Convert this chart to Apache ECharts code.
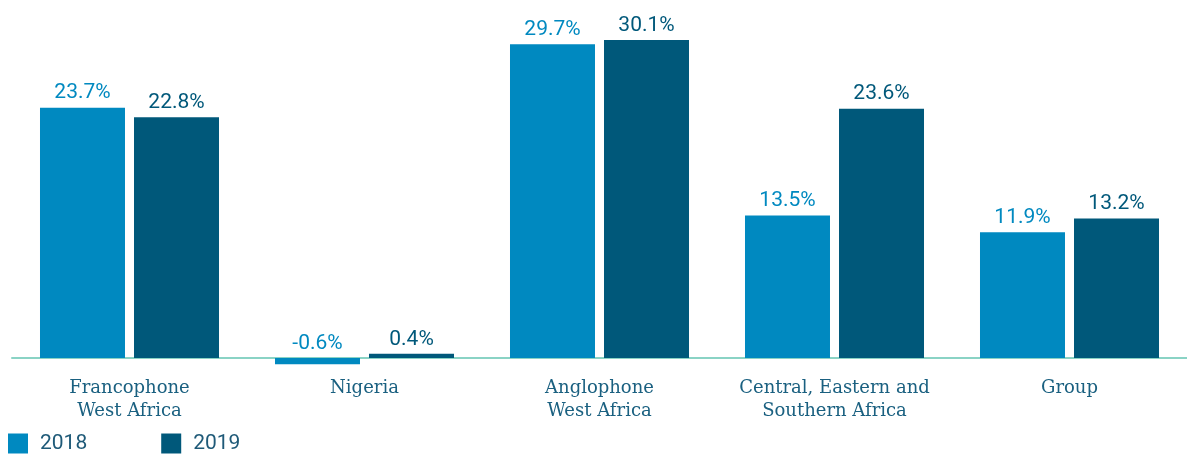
<!DOCTYPE html>
<html>
<head>
<meta charset="utf-8">
<script src="https://cdn.jsdelivr.net/npm/echarts@6/dist/echarts.min.js"></script>
<style>
  html, body { margin: 0; padding: 0; background: #ffffff; }
  #chart { width: 1187px; height: 454px; }
</style>
</head>
<body>
<div id="chart"></div>
<script>
// Regions shown on the category axis
const regions = [
  'Francophone\nWest Africa',
  'Nigeria',
  'Anglophone\nWest Africa',
  'Central, Eastern and\nSouthern Africa',
  'Group'
];
// Yearly percentages per region
const values2018 = [23.7, -0.6, 29.7, 13.5, 11.9];
const values2019 = [22.8, 0.4, 30.1, 23.6, 13.2];
const seriesNames = ['2018', '2019'];

const colLight = '#0089c0';
const colDark = '#00587a';

const chart = echarts.init(document.getElementById('chart'));

function barSeries(name, data, color) {
  return {
    name: name,
    type: 'bar',
    data: data,
    barWidth: 85,
    barGap: '10.6%',
    itemStyle: { color: color },
    label: {
      show: true,
      position: 'top',
      distance: 4,
      color: color,
      fontFamily: 'Roboto',
      fontWeight: 'normal',
      fontSize: 21,
      formatter: p => p.value.toFixed(1) + '%'
    }
  };
}

chart.setOption({
  animation: false,
  grid: { left: 12, right: 0, top: 9.4, bottom: 85.4, containLabel: false },
  legend: {
    left: 8,
    top: 433,
    padding: 0,
    itemWidth: 20,
    itemHeight: 20,
    itemGap: 74,
    icon: 'rect',
    textStyle: { fontFamily: 'Roboto', fontSize: 21, color: '#1f5a78', padding: [0, 0, 0, 7] },
    data: seriesNames
  },
  xAxis: {
    type: 'category',
    data: regions,
    axisLine: { show: true, onZero: true, lineStyle: { color: '#8ad3c5', width: 2 } },
    axisTick: { show: false },
    axisLabel: {
      interval: 0,
      margin: 8,
      fontFamily: 'DejaVu Serif',
      fontSize: 18,
      lineHeight: 23,
      color: '#1a6080'
    }
  },
  yAxis: {
    type: 'value',
    min: -1,
    max: 33,
    show: false,
    splitLine: { show: false }
  },
  series: [
    barSeries(seriesNames[0], values2018, colLight),
    barSeries(seriesNames[1], values2019, colDark)
  ]
});
</script>
</body>
</html>
